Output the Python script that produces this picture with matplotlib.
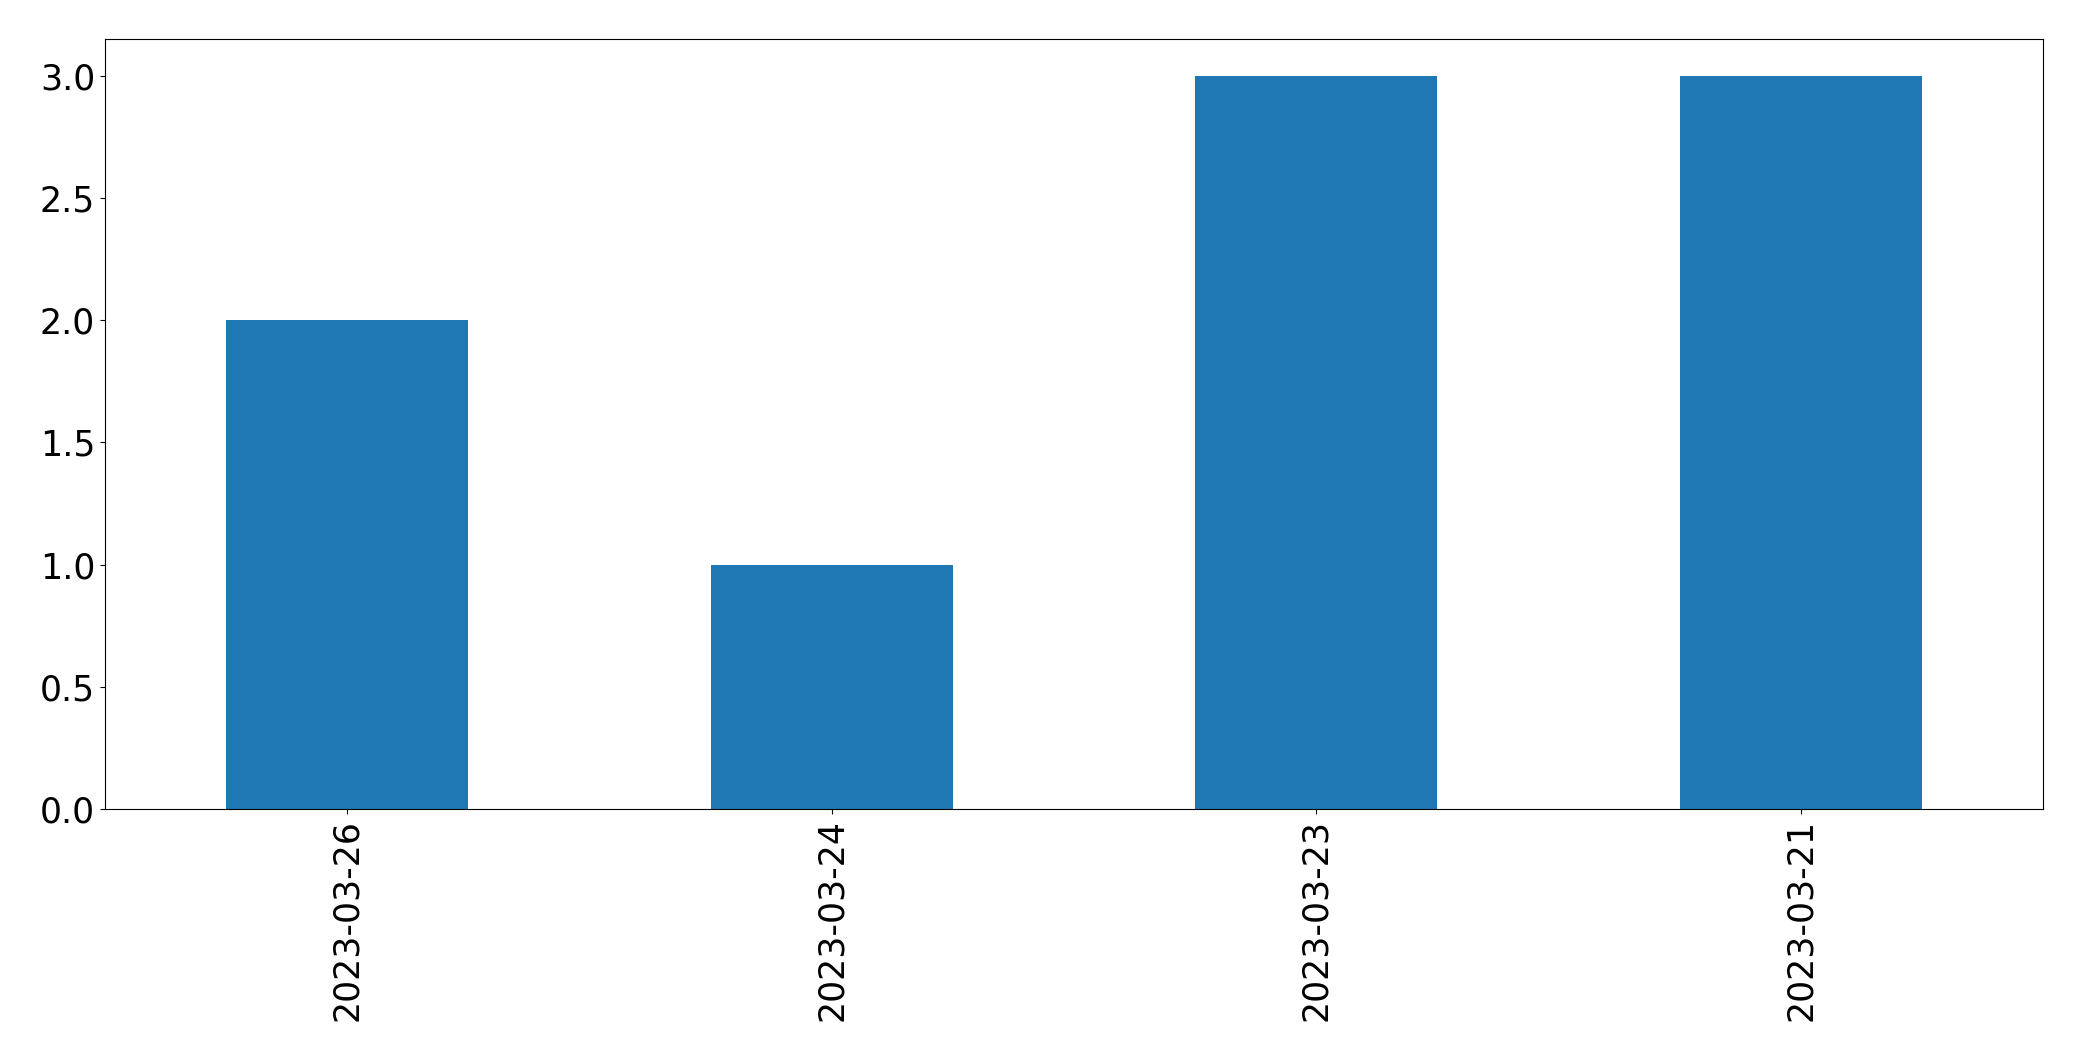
import pandas as pd
import matplotlib.pyplot as plt

# counts per date
dates = ['2023-03-26', '2023-03-24', '2023-03-23', '2023-03-21']
counts = [2, 1, 3, 3]

s = pd.Series(counts, index=dates)

fig = plt.figure(figsize=(20.82, 10.61), dpi=100)
ax = fig.add_axes([0.0504, 0.2375, 0.9309, 0.7257])
s.plot(kind='bar', ax=ax, color='#1f77b4')
ax.tick_params(axis='both', labelsize=25)
plt.setp(ax.get_xticklabels(), rotation=90)
plt.savefig('out.png', dpi=100)
